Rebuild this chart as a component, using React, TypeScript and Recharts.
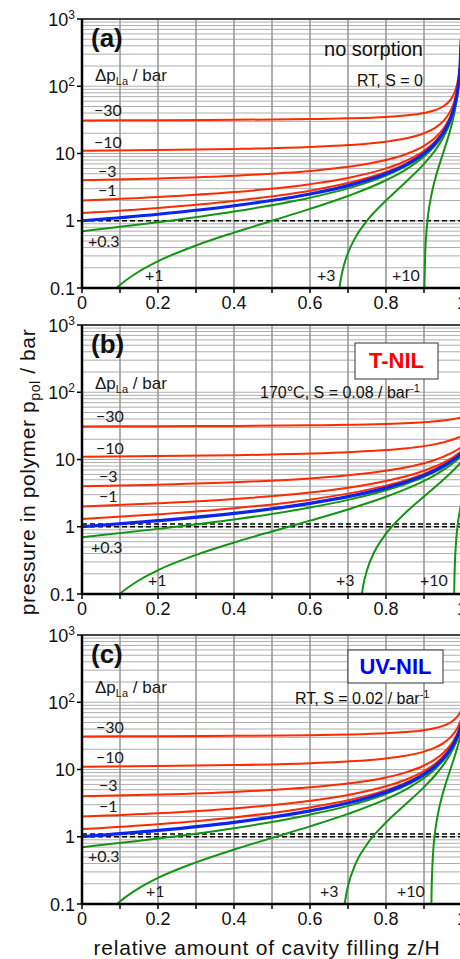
import React from 'react';
import { LineChart, Line, XAxis, YAxis, CartesianGrid, ReferenceLine } from 'recharts';

const RED = '#ff2a00';
const BLUE = '#0b24f0';
const GREEN = '#139413';
const FONT = '"Liberation Sans", Arial, sans-serif';
const LABEL_FONT = 'Lato, "Liberation Sans", sans-serif';

// axis ticks
const xTicks = [0, 0.1, 0.2, 0.3, 0.4, 0.5, 0.6, 0.7, 0.8, 0.9, 1];
const yTicks = [
  0.1, 0.2, 0.3, 0.4, 0.5, 0.6, 0.7, 0.8, 0.9,
  1, 2, 3, 4, 5, 6, 7, 8, 9,
  10, 20, 30, 40, 50, 60, 70, 80, 90,
  100, 200, 300, 400, 500, 600, 700, 800, 900, 1000,
];
const decadeLabels: Record<string, [string, string]> = {
  '0.1': ['0.1', ''],
  '1': ['1', ''],
  '10': ['10', ''],
  '100': ['10', '2'],
  '1000': ['10', '3'],
};

// (a) no sorption, RT, S = 0
const zA = [0, 0.2, 0.4, 0.6, 0.7, 0.8, 0.85, 0.9, 0.93, 0.95, 0.97, 0.98, 0.99, 0.995, 0.998];
const redA = [
  [31, 31.25, 31.67, 32.5, 33.33, 35, 36.67, 40, 44.29, 50, 63.33, 80, 130, 230, 530], // -30
  [11, 11.25, 11.67, 12.5, 13.33, 15, 16.67, 20, 24.29, 30, 43.33, 60, 110, 210, 510], // -10
  [4, 4.25, 4.67, 5.5, 6.33, 8, 9.67, 13, 17.29, 23, 36.33, 53, 103, 203, 503], // -3
  [2, 2.25, 2.67, 3.5, 4.33, 6, 7.67, 11, 15.29, 21, 34.33, 51, 101, 201, 501], // -1
  [1.3, 1.55, 1.97, 2.8, 3.63, 5.3, 6.97, 10.3, 14.59, 20.3, 33.63, 50.3, 100.3, 200.3, 500.3], // -0.3
];
const blueA = [1, 1.25, 1.67, 2.5, 3.33, 5, 6.67, 10, 14.29, 20, 33.33, 50, 100, 200, 500];
const greenA03 = [0.7, 0.95, 1.37, 2.2, 3.03, 4.7, 6.37, 9.7, 13.99, 19.7, 33.03, 49.7, 99.7, 199.7, 499.7];
const greenA1 = [
  [0.09, 0.099], [0.1, 0.111], [0.15, 0.176], [0.2, 0.25], [0.3, 0.429], [0.4, 0.667], [0.5, 1],
  [0.6, 1.5], [0.7, 2.33], [0.8, 4], [0.85, 5.67], [0.9, 9], [0.93, 13.29], [0.95, 19],
  [0.97, 32.33], [0.98, 49], [0.99, 99], [0.995, 199], [0.998, 499],
];
const greenA3 = [
  [0.677, 0.096], [0.68, 0.125], [0.69, 0.226], [0.7, 0.333], [0.72, 0.571], [0.75, 1], [0.8, 2],
  [0.85, 3.67], [0.9, 7], [0.93, 11.29], [0.95, 17], [0.97, 30.33], [0.98, 47], [0.99, 97],
  [0.995, 197], [0.998, 497],
];
const greenA10 = [
  [0.901, 0.101], [0.903, 0.309], [0.905, 0.526], [0.91, 1.11], [0.92, 2.5], [0.93, 4.29],
  [0.95, 10], [0.97, 23.33], [0.98, 40], [0.99, 90], [0.995, 190], [0.998, 490],
];

// (b) T-NIL, 170°C, S = 0.08 / bar
const zB = [0, 0.2, 0.4, 0.6, 0.7, 0.8, 0.85, 0.9, 0.93, 0.95, 0.97, 0.98, 0.99, 1];
const redB = [
  [31, 31.23, 31.58, 32.23, 32.81, 33.79, 34.59, 35.81, 36.93, 37.94, 39.29, 40.16, 41.21, 42.5],
  [11, 11.23, 11.58, 12.23, 12.81, 13.79, 14.59, 15.81, 16.93, 17.94, 19.29, 20.16, 21.21, 22.5],
  [4, 4.23, 4.58, 5.23, 5.81, 6.79, 7.59, 8.81, 9.93, 10.94, 12.29, 13.16, 14.21, 15.5],
  [2, 2.23, 2.58, 3.23, 3.81, 4.79, 5.59, 6.81, 7.93, 8.94, 10.29, 11.16, 12.21, 13.5],
  [1.3, 1.53, 1.88, 2.53, 3.11, 4.09, 4.89, 6.11, 7.23, 8.24, 9.59, 10.46, 11.51, 12.8],
];
const blueB = [1, 1.23, 1.58, 2.23, 2.81, 3.79, 4.59, 5.81, 6.93, 7.94, 9.29, 10.16, 11.21, 12.5];
const greenB03 = [0.7, 0.93, 1.28, 1.93, 2.51, 3.49, 4.29, 5.51, 6.63, 7.64, 8.99, 9.86, 10.91, 12.2];
const greenB1 = [
  [0.09, 0.09], [0.1, 0.101], [0.15, 0.16], [0.2, 0.226], [0.3, 0.381], [0.4, 0.582], [0.5, 0.852],
  [0.6, 1.232], [0.7, 1.809], [0.8, 2.788], [0.85, 3.587], [0.9, 4.814], [0.93, 5.925],
  [0.95, 6.937], [0.97, 8.294], [0.98, 9.163], [0.99, 10.21], [1, 11.5],
];
const greenB3 = [
  [0.735, 0.088], [0.74, 0.133], [0.75, 0.226], [0.77, 0.429], [0.8, 0.788], [0.85, 1.587],
  [0.9, 2.814], [0.93, 3.925], [0.95, 4.937], [0.97, 6.294], [0.98, 7.163], [0.99, 8.211], [1, 9.5],
];
const greenB10 = [[0.979, 0.068], [0.98, 0.163], [0.985, 0.661], [0.99, 1.211], [0.995, 1.82], [1, 2.5]];

// (c) UV-NIL, RT, S = 0.02 / bar
const zC = [0, 0.2, 0.4, 0.6, 0.7, 0.8, 0.85, 0.9, 0.93, 0.95, 0.97, 0.98, 0.99, 1];
const redC = [
  [31, 31.24, 31.64, 32.43, 33.18, 34.63, 35.99, 38.47, 41.29, 44.49, 50.24, 55.25, 63.56, 80],
  [11, 11.24, 11.64, 12.43, 13.18, 14.63, 15.99, 18.47, 21.29, 24.49, 30.24, 35.25, 43.56, 60],
  [4, 4.24, 4.64, 5.43, 6.18, 7.63, 8.99, 11.47, 14.29, 17.49, 23.24, 28.25, 36.56, 53],
  [2, 2.24, 2.64, 3.43, 4.18, 5.63, 6.99, 9.47, 12.29, 15.49, 21.24, 26.25, 34.56, 51],
  [1.3, 1.54, 1.94, 2.73, 3.48, 4.93, 6.29, 8.77, 11.59, 14.79, 20.54, 25.55, 33.86, 50.3],
];
const blueC = [1, 1.24, 1.64, 2.43, 3.18, 4.63, 5.99, 8.47, 11.29, 14.49, 20.24, 25.25, 33.56, 50];
const greenC03 = [0.7, 0.94, 1.34, 2.13, 2.88, 4.33, 5.69, 8.17, 10.99, 14.19, 19.94, 24.95, 33.26, 49.7];
const greenC1 = [
  [0.09, 0.097], [0.1, 0.109], [0.15, 0.172], [0.2, 0.244], [0.3, 0.416], [0.4, 0.645], [0.5, 0.961],
  [0.6, 1.427], [0.7, 2.185], [0.8, 3.63], [0.85, 4.99], [0.9, 7.47], [0.93, 10.29],
  [0.95, 13.49], [0.97, 19.24], [0.98, 24.25], [0.99, 32.56], [1, 49],
];
const greenC3 = [
  [0.69, 0.088], [0.695, 0.136], [0.7, 0.185], [0.72, 0.397], [0.75, 0.774], [0.8, 1.63],
  [0.85, 2.988], [0.9, 5.475], [0.93, 8.287], [0.95, 11.49], [0.97, 17.24], [0.98, 22.25],
  [0.99, 30.56], [1, 47],
];
const greenC10 = [
  [0.919, 0.062], [0.92, 0.163], [0.925, 0.695], [0.93, 1.287], [0.94, 2.69], [0.95, 4.49],
  [0.97, 10.24], [0.98, 15.25], [0.99, 23.56], [1, 40],
];

const onGrid = (z: number[], p: number[]) => z.map((zz, i) => ({ z: zz, p: p[i] }));
const fromPairs = (pts: number[][]) => pts.map(([z, p]) => ({ z, p }));

function XTick(props: any) {
  const { x, y, payload } = props;
  const v = payload.value;
  if (Math.round(v * 10) % 2 !== 0) return <g />;
  const label = v === 0 ? '0' : v === 1 ? '1' : v.toFixed(1);
  return (
    <text x={x} y={y + 14} textAnchor="middle" fontSize={18} fontFamily={FONT} fill="#111">
      {label}
    </text>
  );
}

function YTick(props: any) {
  const { y, payload } = props;
  const lab = decadeLabels[String(payload.value)];
  if (!lab) return <g />;
  return (
    <g>
      <line x1={77} x2={82} y1={y} y2={y} stroke="#000" strokeWidth={1.5} />
      <text x={75} y={y + 6.5} textAnchor="end" fontSize={18} fontFamily={FONT} fill="#111">
        {lab[0]}
        {lab[1] && (
          <tspan dy={-7} fontSize={12}>
            {lab[1]}
          </tspan>
        )}
      </text>
    </g>
  );
}

function Panel({ top, z, red, blue, g03, greens, doubleDash }: any) {
  return (
    <div style={{ position: 'absolute', left: 0, top }}>
      <LineChart width={500} height={310} margin={{ top: 10, right: 38, bottom: 1, left: 0 }}>
        <CartesianGrid horizontal vertical={false} stroke="#aeaeae" strokeWidth={1} />
        <CartesianGrid horizontal={false} vertical stroke="#9a9a9a" strokeWidth={1.6} />
        <XAxis
          type="number"
          dataKey="z"
          domain={[0, 1]}
          ticks={xTicks}
          interval={0}
          allowDataOverflow
          height={30}
          tick={<XTick />}
          tickLine={{ stroke: '#000', strokeWidth: 1.5 }}
          tickSize={5}
          axisLine={{ stroke: '#000', strokeWidth: 2.5 }}
        />
        <YAxis
          type="number"
          scale="log"
          domain={[0.1, 1000]}
          ticks={yTicks}
          interval={0}
          allowDataOverflow
          width={82}
          tick={<YTick />}
          tickLine={false}
          axisLine={{ stroke: '#000', strokeWidth: 2.5 }}
        />
        <ReferenceLine y={1000} stroke="#444" strokeWidth={2} />
        <ReferenceLine y={1} stroke="#000" strokeWidth={1.4} strokeDasharray="5 3" />
        {doubleDash && <ReferenceLine y={1.1} stroke="#000" strokeWidth={1.4} strokeDasharray="5 3" />}
        {greens.map((pts: number[][], i: number) => (
          <Line
            key={'g' + i}
            data={fromPairs(pts)}
            dataKey="p"
            type="monotone"
            stroke={GREEN}
            strokeWidth={2}
            dot={false}
            isAnimationActive={false}
          />
        ))}
        <Line data={onGrid(z, g03)} dataKey="p" type="monotone" stroke={GREEN} strokeWidth={2} dot={false} isAnimationActive={false} />
        {red.map((vals: number[], i: number) => (
          <Line
            key={'r' + i}
            data={onGrid(z, vals)}
            dataKey="p"
            type="monotone"
            stroke={RED}
            strokeWidth={2}
            dot={false}
            isAnimationActive={false}
          />
        ))}
        <Line data={onGrid(z, blue)} dataKey="p" type="monotone" stroke={BLUE} strokeWidth={3.2} dot={false} isAnimationActive={false} />
      </LineChart>
    </div>
  );
}

function DeltaLabel({ x, y }: { x: number; y: number }) {
  return (
    <text x={x} y={y} fontSize={17} fontFamily={FONT} fill="#1a1a1a">
      Δp<tspan dy={4} fontSize={11}>La</tspan>
      <tspan dy={-4}> / bar</tspan>
    </text>
  );
}

function CurveLabel({ x, y, t }: { x: number; y: number; t: string }) {
  return (
    <text x={x} y={y} fontSize={16} fontFamily={LABEL_FONT} fill="#1a1a1a">
      {t}
    </text>
  );
}

const labelsA = [
  ['−30', 94, 116], ['−10', 94, 148], ['−3', 98, 177], ['−1', 98, 196],
  ['+0.3', 88, 247], ['+1', 145, 281], ['+3', 317, 281], ['+10', 392, 281],
];
const labelsB = [
  ['−30', 96, 422], ['−10', 96, 454], ['−3', 99, 482], ['−1', 99, 502],
  ['+0.3', 91, 553], ['+1', 148, 586], ['+3', 336, 586], ['+10', 420, 586],
];
const labelsC = [
  ['−30', 96, 733], ['−10', 96, 763], ['−3', 99, 791], ['−1', 99, 812],
  ['+0.3', 88, 862], ['+1', 146, 897], ['+3', 320, 897], ['+10', 397, 897],
];

export default function App() {
  return (
    <div style={{ position: 'absolute', left: 0, top: 0, width: 460, height: 959, overflow: 'hidden', background: '#fff' }}>
      <Panel top={9} z={zA} red={redA} blue={blueA} g03={greenA03} greens={[greenA1, greenA3, greenA10]} doubleDash={false} />
      <Panel top={315} z={zB} red={redB} blue={blueB} g03={greenB03} greens={[greenB1, greenB3, greenB10]} doubleDash />
      <Panel top={625} z={zC} red={redC} blue={blueC} g03={greenC03} greens={[greenC1, greenC3, greenC10]} doubleDash />
      <svg width={460} height={959} style={{ position: 'absolute', left: 0, top: 0, pointerEvents: 'none' }}>
        {/* panel (a) */}
        <text x={91} y={47} fontSize={26} fontWeight="bold" fontFamily={FONT} fill="#111">(a)</text>
        <DeltaLabel x={95} y={81} />
        <text x={423} y={56} textAnchor="end" fontSize={20} fontFamily={FONT} fill="#111">no sorption</text>
        <text x={423} y={86} textAnchor="end" fontSize={16} fontFamily={FONT} fill="#111">RT, S = 0</text>
        {labelsA.map((l: any) => <CurveLabel key={'a' + l[0]} t={l[0]} x={l[1]} y={l[2]} />)}

        {/* panel (b) */}
        <text x={91} y={353} fontSize={26} fontWeight="bold" fontFamily={FONT} fill="#111">(b)</text>
        <DeltaLabel x={95} y={389} />
        <rect x={355} y={343} width={83} height={36} fill="#fff" stroke="#333" strokeWidth={1} />
        <text x={396.5} y={368} textAnchor="middle" fontSize={22} fontWeight="bold" fontFamily={FONT} fill="#ff0000">T-NIL</text>
        <text x={260} y={398} fontSize={16} fontFamily={FONT} fill="#111">
          170°C, S = 0.08 / bar<tspan dy={-6} fontSize={11}>-1</tspan>
        </text>
        {labelsB.map((l: any) => <CurveLabel key={'b' + l[0]} t={l[0]} x={l[1]} y={l[2]} />)}

        {/* panel (c) */}
        <text x={91} y={663} fontSize={26} fontWeight="bold" fontFamily={FONT} fill="#111">(c)</text>
        <DeltaLabel x={95} y={693} />
        <rect x={348} y={650} width={95} height={33} fill="#fff" stroke="#333" strokeWidth={1} />
        <text x={395.5} y={674} textAnchor="middle" fontSize={22} fontWeight="bold" fontFamily={FONT} fill="#0000ff">UV-NIL</text>
        <text x={295} y={704} fontSize={16} fontFamily={FONT} fill="#111">
          RT, S = 0.02 / bar<tspan dy={-6} fontSize={11}>-1</tspan>
        </text>
        {labelsC.map((l: any) => <CurveLabel key={'c' + l[0]} t={l[0]} x={l[1]} y={l[2]} />)}

        {/* axis titles */}
        <text
          x={35}
          y={472}
          transform="rotate(-90 35 472)"
          textAnchor="middle"
          fontSize={21}
          letterSpacing={0.6}
          fontFamily={FONT}
          fill="#111"
        >
          pressure in polymer  p<tspan dy={5} fontSize={14}>pol</tspan>
          <tspan dy={-5}> / bar</tspan>
        </text>
        <text x={267} y={955} textAnchor="middle" fontSize={21} letterSpacing={0.8} fontFamily={FONT} fill="#111">
          relative amount of cavity filling  z/H
        </text>
      </svg>
    </div>
  );
}
